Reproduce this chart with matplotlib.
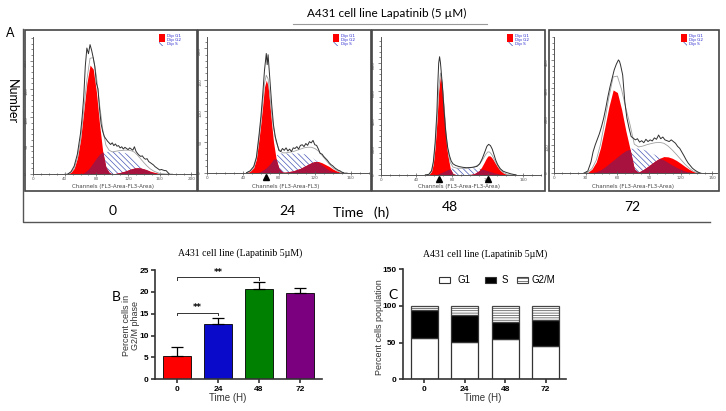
import numpy as np
import matplotlib.pyplot as plt
from matplotlib.patches import Rectangle
from matplotlib.lines import Line2D
from matplotlib.ticker import MultipleLocator

# ---- flow cytometry histograms (channel, counts) ----
ch_0h = [40, 44, 48, 52, 56, 60, 64, 68, 72, 76, 80, 84, 88, 92, 96, 100, 104, 108, 112, 116,
         120, 124, 128, 132, 136, 140, 144, 148, 152, 156, 160, 164, 168, 172, 176]
g1_0h = [0, 0, 3, 10, 28, 60, 110, 160, 192, 185, 145, 88, 40, 12, 3, 0, 0, 0, 0, 0,
         0, 0, 0, 0, 0, 0, 0, 0, 0, 0, 0, 0, 0, 0, 0]
s_0h = [0, 0, 0, 0, 0, 0, 2, 6, 12, 20, 28, 35, 39, 39, 39, 39, 39, 39, 38, 37,
        35, 32, 28, 22, 16, 11, 7, 4, 2, 1, 0, 0, 0, 0, 0]
g2_0h = [0, 0, 0, 0, 0, 0, 0, 0, 0, 0, 0, 0, 0, 0, 0, 0, 1, 2, 3.5, 5,
         7, 9, 10.5, 11, 10.5, 9, 7, 5, 3.5, 2, 1, 0.5, 0, 0, 0]
raw_ch_0h = [44, 48, 52, 56, 60, 62, 64, 66, 68, 70, 72, 74, 76, 78, 80, 82, 84, 86, 88, 90,
             92, 94, 96, 98, 100, 102, 104, 106, 108, 110, 112, 114, 116, 118, 120, 122, 124,
             126, 128, 130, 132, 134, 136, 138, 140, 142, 144, 146, 148, 150, 152, 154, 156,
             158, 160, 162, 164, 166, 168, 170, 172]
raw_0h = [0, 4, 14, 35, 72, 100, 135, 190, 222, 212, 228, 218, 205, 190, 160, 150, 115, 88, 75, 66,
          62, 58, 55, 52, 55, 50, 53, 49, 50, 46, 48, 44, 47, 45, 43, 46, 44,
          42, 48, 40, 36, 33, 31, 32, 28, 26, 27, 22, 20, 18, 16, 13, 11,
          9, 7, 8, 7, 6, 6, 3, 0]

ch_24h = [44, 48, 52, 55, 58, 60, 62, 64, 66, 68, 70, 72, 74, 77, 80, 84, 88, 92, 96, 100,
          104, 108, 112, 116, 120, 124, 128, 132, 136, 140, 144, 148, 152, 156]
g1_24h = [0, 2, 8, 22, 55, 80, 108, 138, 149, 140, 110, 78, 50, 22, 7, 1, 0, 0, 0, 0,
          0, 0, 0, 0, 0, 0, 0, 0, 0, 0, 0, 0, 0, 0]
s_24h = [0, 0, 0, 0, 1, 2, 4, 6, 8, 11, 14, 18, 22, 27, 31, 31, 31, 31, 31, 31,
         31, 30, 28, 25, 21, 17, 12, 8, 4, 2, 1, 0, 0, 0]
g2_24h = [0, 0, 0, 0, 0, 0, 0, 0, 0, 0, 0, 0, 0, 0, 0, 0, 1, 2, 3, 5,
          7, 10, 13, 16, 18, 18, 16, 13, 10, 6, 3, 1, 0, 0]
raw_ch_24h = [44, 48, 52, 55, 58, 60, 62, 64, 66, 67, 68, 70, 72, 74, 76, 78, 80, 82, 84, 86,
              88, 90, 92, 94, 96, 98, 100, 102, 104, 106, 108, 110, 112, 114, 116, 118, 120,
              122, 124, 126, 128, 130, 132, 134, 136, 138, 140, 142, 144, 146, 148, 150, 152]
raw_24h = [0, 3, 10, 25, 62, 90, 125, 165, 192, 174, 190, 150, 110, 77, 58, 47, 36, 34, 39, 36,
           40, 35, 38, 34, 40, 39, 42, 38, 44, 45, 42, 47, 44, 50, 48, 52, 45,
           44, 38, 31, 30, 26, 23, 20, 16, 13, 11, 8, 6, 4, 3, 1, 0]

ch_48h = [50, 54, 57, 59, 61, 63, 65, 67, 69, 71, 73, 75, 78, 81, 85, 90, 95, 100, 105, 110,
          113, 116, 118, 120, 122, 124, 126, 128, 131, 134, 138, 142, 146, 150]
g1_48h = [0, 2, 25, 80, 200, 380, 600, 714, 640, 470, 290, 150, 45, 10, 1, 0, 0, 0, 0, 0,
          0, 0, 0, 0, 0, 0, 0, 0, 0, 0, 0, 0, 0, 0]
s_48h = [0, 0, 0, 1, 3, 6, 10, 15, 20, 26, 32, 38, 44, 47, 48, 48, 48, 48, 47, 45,
         42, 38, 34, 30, 26, 22, 18, 14, 10, 6, 3, 1, 0, 0]
g2_48h = [0, 0, 0, 0, 0, 0, 0, 0, 0, 0, 0, 0, 0, 0, 0, 0, 0, 3, 10, 30,
          55, 90, 115, 135, 138, 128, 110, 88, 58, 32, 12, 3, 0, 0]
raw_ch_48h = [50, 54, 57, 59, 61, 63, 64, 65, 66, 67, 69, 71, 73, 75, 77, 79, 81, 84, 88, 92,
              96, 100, 104, 108, 111, 114, 117, 119, 121, 123, 125, 127, 129, 131, 134, 137,
              140, 143, 146, 149, 152]
raw_48h = [0, 5, 30, 95, 230, 450, 650, 800, 845, 800, 650, 460, 300, 200, 140, 100, 80, 68, 60, 55,
           52, 53, 56, 62, 80, 120, 170, 205, 219, 210, 185, 145, 105, 75, 45, 28,
           20, 14, 8, 4, 0]

ch_72h = [28, 32, 36, 40, 44, 48, 52, 56, 60, 64, 68, 72, 76, 80, 84, 88, 92, 96, 100, 104,
          108, 112, 116, 120, 124, 128, 132, 136, 140]
g1_72h = [0, 3, 15, 40, 90, 160, 235, 294, 285, 225, 150, 85, 15, 2, 0, 0, 0, 0, 0, 0,
          0, 0, 0, 0, 0, 0, 0, 0, 0]
s_72h = [0, 0, 2, 6, 12, 22, 34, 46, 58, 70, 80, 86, 88, 87, 84, 79, 72, 64, 56, 47,
         38, 29, 21, 14, 8, 4, 1, 0, 0]
g2_72h = [0, 0, 0, 0, 0, 0, 0, 0, 0, 0, 0, 0, 0, 4, 12, 22, 33, 44, 53, 59,
          58, 53, 45, 35, 24, 14, 6, 2, 0]
raw_ch_72h = [28, 32, 35, 37, 39, 41, 43, 45, 47, 49, 51, 53, 55, 57, 59, 61, 62, 63, 65, 67,
              69, 71, 73, 75, 77, 79, 81, 83, 85, 87, 89, 91, 93, 95, 97, 99, 101, 103, 105,
              107, 109, 111, 113, 115, 117, 119, 121, 123, 125, 127, 129, 131, 133, 135, 137, 139]
raw_72h = [0, 8, 40, 76, 100, 120, 140, 165, 194, 230, 270, 305, 335, 365, 385, 400, 395, 382, 347, 253,
           195, 160, 130, 124, 118, 122, 110, 115, 108, 120, 112, 118, 114, 125, 120, 135, 122, 128, 118,
           115, 112, 118, 112, 106, 95, 88, 75, 62, 48, 36, 27, 18, 12, 7, 3, 0]

hours = ["0", "24", "48", "72"]

# ---- panel B: % cells in G2/M ----
g2m_pct = [5.4, 12.7, 20.7, 19.8]
g2m_err = [2.1, 1.3, 1.5, 1.1]
bar_colors = ["#ff0000", "#0a0acb", "#008000", "#7a0080"]

# ---- panel C: cell cycle distribution ----
g1_pct = [57, 50.5, 55.5, 45.5]
s_pct = [37, 37, 23, 35]
g2m_stack = [6, 12.5, 21.5, 19.5]

plt.rcParams['hatch.linewidth'] = 0.5
W, H = 726, 411
fig = plt.figure(figsize=(W / 100, H / 100), dpi=100)
CAL = ['Lato', 'DejaVu Sans']
ARIAL = 'Liberation Sans'
SERIF = 'Liberation Serif'


def px_axes(l, t, r, b):
    return fig.add_axes([l / W, 1 - b / H, (r - l) / W, (b - t) / H])


def px_text(x, y, s, **kw):
    fig.text(x / W, 1 - y / H, s, **kw)


def px_line(xs, ys, **kw):
    fig.add_artist(Line2D([x / W for x in xs], [1 - y / H for y in ys],
                          transform=fig.transFigure, **kw))


def px_rect(l, t, r, b, **kw):
    fig.add_artist(Rectangle((l / W, 1 - b / H), (r - l) / W, (b - t) / H,
                             transform=fig.transFigure, **kw))


def flow_panel(box, frame, xlim, ylim, xstep, xminor, ystep, yminor,
               ch, g1, s, g2, raw_ch, raw, xlabel, markers):
    ch, g1, s, g2 = map(np.array, (ch, g1, s, g2))
    ax = px_axes(*box)
    ax.fill_between(ch, 0, s, facecolor='white', edgecolor='#4858b8',
                    hatch='\\\\\\\\\\\\', linewidth=0)
    ax.fill_between(ch, 0, g1, color='#ff0000', lw=0)
    ax.fill_between(ch, 0, g2, color='#ff0000', lw=0)
    ax.fill_between(ch, 0, np.minimum(s, np.maximum(g1, g2)), color='#a8123e', lw=0)
    ax.plot(ch, g1 + s + g2, color='#a0a0a0', lw=0.6)
    ax.plot(raw_ch, raw, color='#303030', lw=0.7)
    for m in markers:
        ax.plot([m], [-0.03 * ylim[1]], marker='^', color='k', ms=4, clip_on=False)
    ax.set_xlim(*xlim)
    ax.set_ylim(*ylim)
    ax.set_facecolor('none')
    for sp in ['top', 'right']:
        ax.spines[sp].set_visible(False)
    for sp in ['left', 'bottom']:
        ax.spines[sp].set_color('#555555')
        ax.spines[sp].set_linewidth(0.7)
    ax.xaxis.set_major_locator(MultipleLocator(xstep))
    ax.xaxis.set_minor_locator(MultipleLocator(xminor))
    ax.yaxis.set_major_locator(MultipleLocator(ystep))
    ax.yaxis.set_minor_locator(MultipleLocator(yminor))
    ax.tick_params(axis='x', which='both', direction='inout', colors='#555555',
                   labelsize=3, pad=1, width=0.5)
    ax.tick_params(axis='y', which='both', direction='out', colors='#555555',
                   labelsize=3, pad=1, width=0.5, labelrotation=90)
    ax.tick_params(which='major', length=2.5)
    ax.tick_params(which='minor', length=1.5)
    l, t, r, b = frame
    px_rect(l, t, r, b, fill=False, edgecolor='#444444', lw=1.2)
    px_text((box[0] + box[2]) / 2 - 2, 186, xlabel, ha='center', va='center',
            fontsize=4, color='#444444')
    labels = ['Dip G1', 'Dip G2', 'Dip S']
    for i, lab in enumerate(labels):
        y0 = 34.5 + i * 4
        if i < 2:
            px_rect(r - 38, y0, r - 32, y0 + 3.5, facecolor='#ff0000', lw=0)
        else:
            px_rect(r - 38, y0, r - 32, y0 + 3.5, facecolor='white',
                    edgecolor='#4858b8', hatch='\\\\\\\\', lw=0)
        px_text(r - 30, y0 + 1.8, lab, fontsize=3, color='#2a2ad0', va='center')


lab_full = 'Channels (FL3-Area-FL3-Area)'
flow_panel((33, 36.7, 197, 174), (25, 30, 197, 191), (0, 207), (0, 242), 40, 10, 50, 10,
           ch_0h, g1_0h, s_0h, g2_0h, raw_ch_0h, raw_0h, lab_full, [])
flow_panel((207, 36.7, 368.7, 172.7), (198, 30, 371, 191), (0, 180), (0, 219), 40, 10, 50, 10,
           ch_24h, g1_24h, s_24h, g2_24h, raw_ch_24h, raw_24h, 'Channels (FL3-Area-FL3)', [66])
flow_panel((380.7, 36.7, 541.3, 175), (372, 30, 545, 191), (0, 180), (0, 988), 40, 10, 200, 40,
           ch_48h, g1_48h, s_48h, g2_48h, raw_ch_48h, raw_48h, lab_full, [65.5, 120.6])
flow_panel((554, 36.7, 716.7, 173.3), (549, 30, 719, 191), (0, 154), (0, 482), 30, 7.5, 100, 20,
           ch_72h, g1_72h, s_72h, g2_72h, raw_ch_72h, raw_72h, lab_full, [])

# top annotations
px_text(387, 13, 'A431 cell line Lapatinib (5 \u00b5M)', ha='center', va='center',
        fontsize=8.5, family=CAL)
px_line([293, 487], [24, 24], color='#999999', lw=0.8)
px_text(10, 33, 'A', ha='center', va='center', fontsize=9, family=CAL)
px_text(12, 102, 'Number', rotation=-90, ha='center', va='center', fontsize=9, family=CAL)
px_line([23, 23, 710], [29, 222, 222], color='#555555', lw=1)
for hx, hy, h in zip([113, 287, 450, 632], [211, 211, 207, 207], hours):
    px_text(hx, hy, h, ha='center', va='center', fontsize=10, family=CAL)
px_text(333, 213, 'Time   (h)', ha='left', va='center', fontsize=10, family=CAL)

# ---- panel B ----
x = np.arange(len(hours))
axb = px_axes(155, 270, 322, 379.3)
axb.bar(x, g2m_pct, width=0.68, color=bar_colors, edgecolor='k', lw=0.6)
axb.errorbar(x, g2m_pct, yerr=[np.zeros(len(x)), g2m_err], fmt='none', ecolor='k',
             capsize=4.5, elinewidth=0.9, capthick=0.9)
axb.plot([0, 0, 1, 1], [14.6, 15.1, 15.1, 14.6], color='#333333', lw=0.7)
axb.text(0.5, 15.3, '**', ha='center', va='bottom', fontsize=6, fontweight='bold')
axb.plot([0, 0, 2, 2], [22.8, 23.3, 23.3, 22.8], color='#333333', lw=0.7)
axb.text(1, 23.5, '**', ha='center', va='bottom', fontsize=6, fontweight='bold')
axb.set_xlim(-0.54, 3.54)
axb.set_ylim(0, 25)
axb.set_yticks(range(0, 26, 5))
axb.set_xticks(x)
axb.set_xticklabels(hours)
px_text(240, 253, 'A431 cell line (Lapatinib 5\u00b5M)', ha='center', va='center',
        fontsize=7, family=SERIF)
px_text(131, 325, 'Percent cells in\nG2/M phase', rotation=90, ha='center', va='center',
        fontsize=6.5, family=ARIAL, color='#333333', linespacing=1.0)
px_text(228, 398, 'Time (H)', ha='center', va='center', fontsize=7, family=ARIAL, color='#333333')
px_text(116, 297, 'B', ha='center', va='center', fontsize=10, family=CAL)

# ---- panel C ----
g1a, sa, g2a = np.array(g1_pct), np.array(s_pct), np.array(g2m_stack)
axc = px_axes(402.7, 269.3, 566, 379.3)
axc.bar(x, g1a, width=0.66, color='white', edgecolor='#333333', lw=0.9)
axc.bar(x, sa, width=0.66, bottom=g1a, color='black', edgecolor='#333333', lw=0.9)
axc.bar(x, g2a, width=0.66, bottom=g1a + sa, color='white', edgecolor='#444444',
        hatch='-------', lw=0.9)
axc.set_xlim(-0.53, 3.5)
axc.set_ylim(0, 150)
axc.set_yticks([0, 50, 100, 150])
axc.set_xticks(x)
axc.set_xticklabels(hours)
px_text(485, 254, 'A431 cell line (Lapatinib 5\u00b5M)', ha='center', va='center',
        fontsize=7, family=SERIF)
px_text(379, 327, 'Percent cells population', rotation=90, ha='center', va='center',
        fontsize=6.5, family=ARIAL, color='#333333')
px_text(483, 398, 'Time (H)', ha='center', va='center', fontsize=7, family=ARIAL, color='#333333')
px_text(393, 295, 'C', ha='center', va='center', fontsize=10, family=CAL)
px_rect(439, 277, 450, 283, facecolor='white', edgecolor='#333333', lw=0.8)
px_text(457, 280, 'G1', va='center', fontsize=7, family=ARIAL)
px_rect(485, 277, 496, 283, facecolor='black', edgecolor='#333333', lw=0.8)
px_text(502, 280, 'S', va='center', fontsize=7, family=ARIAL)
px_rect(517, 277, 528, 283, facecolor='white', edgecolor='#444444', hatch='-----', lw=0.8)
px_text(532, 280, 'G2/M', va='center', fontsize=7, family=ARIAL)

for ax in (axb, axc):
    for sp in ['top', 'right']:
        ax.spines[sp].set_visible(False)
    for sp in ['left', 'bottom']:
        ax.spines[sp].set_color('#333333')
        ax.spines[sp].set_linewidth(1.2)
    ax.tick_params(width=1.2, length=3, colors='#333333', labelsize=6, pad=1.5)
    for lab in ax.get_xticklabels() + ax.get_yticklabels():
        lab.set_fontweight('bold')
        lab.set_family(ARIAL)
        lab.set_color('black')

fig.savefig('out.png', dpi=100)
